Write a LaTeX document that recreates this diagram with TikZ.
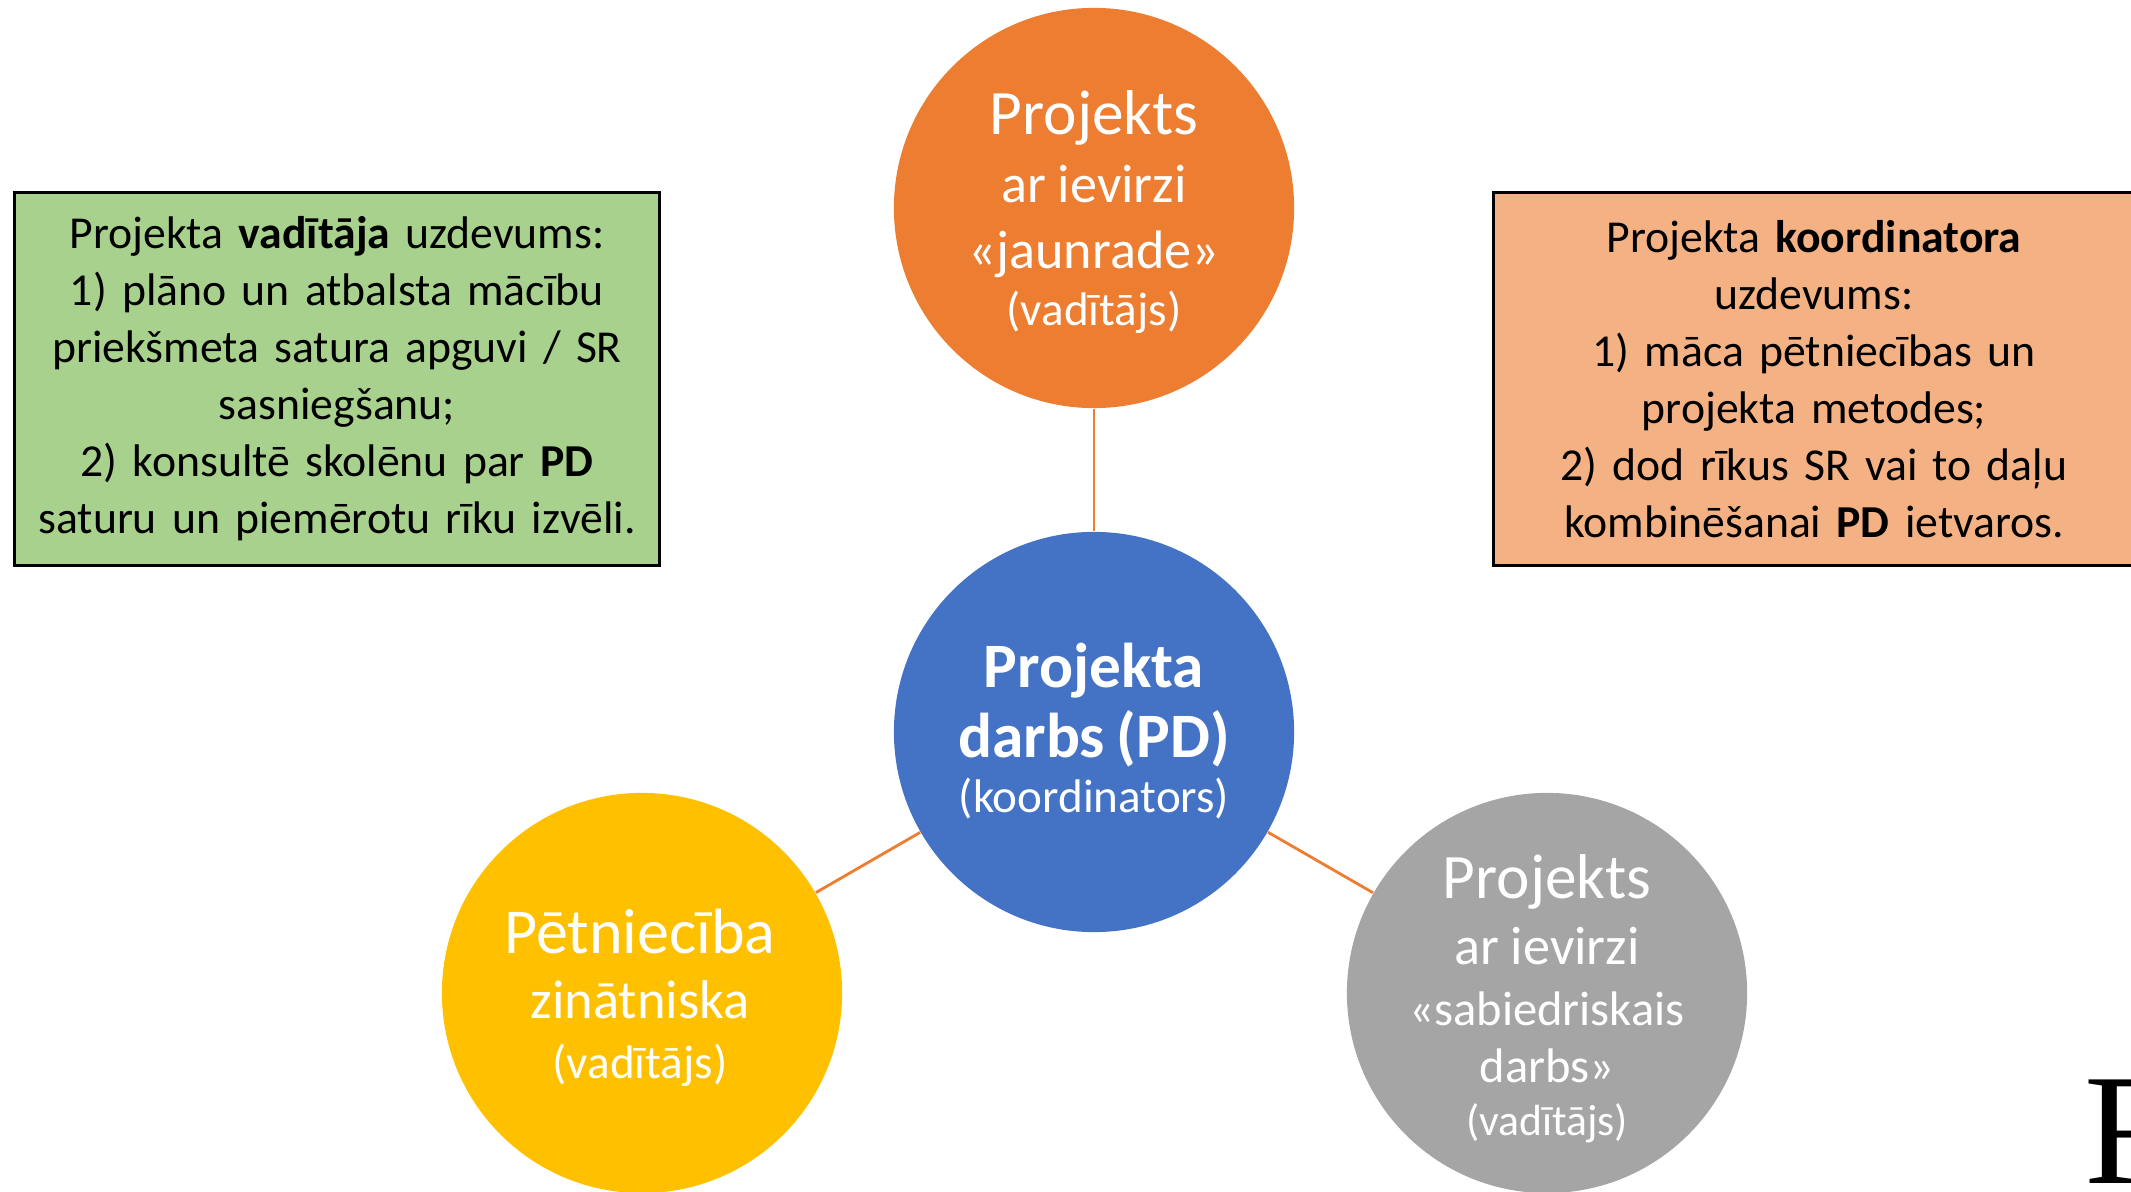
\documentclass[tikz,border=0pt]{standalone}
\usepackage{fontspec}
\setmainfont{Carlito}
\newfontfamily\serifR{Liberation Serif}
\usetikzlibrary{positioning}
\definecolor{pdblue}{HTML}{4472C4}
\definecolor{jaunorange}{HTML}{ED7D31}
\definecolor{petyellow}{HTML}{FFC000}
\definecolor{sabgrey}{HTML}{A5A5A5}
\definecolor{vadgreen}{HTML}{A9D18E}
\definecolor{koordpeach}{HTML}{F4B183}
\newcommand{\tline}[3]{{\fontsize{#1}{#2}\selectfont #3\par}}

\begin{document}
\begin{tikzpicture}[x=0.01cm, y=-0.01cm,
    bubble/.style={circle, minimum size=4cm, inner sep=0pt, draw=none},
    bubbletext/.style={anchor=base, text width=4.2cm, align=center, inner sep=0pt, text=white},
    taskbox/.style={rectangle, draw=black, line width=0.9pt, inner sep=0pt, minimum height=3.72cm,
        align=center, font=\fontsize{13}{16.2}\selectfont},
    link/.style={draw=jaunorange, line width=0.8pt}]
  \useasboundingbox (0,0) rectangle (2131,1192);
  \clip (0,0) rectangle (2131,1192);

  % circles
  \node[bubble, fill=jaunorange] (jaunrade) at (1094,208) {};
  \node[bubble, fill=pdblue] (pd) at (1094,732) {};
  \node[bubble, fill=petyellow] (petnieciba) at (642,993) {};
  \node[bubble, fill=sabgrey] (sabiedr) at (1547,993) {};

  \draw[link] (pd) -- (jaunrade);
  \draw[link] (pd) -- (petnieciba);
  \draw[link] (pd) -- (sabiedr);

  \node[bubbletext] (jaunradeTxt) at (1094,135) {\tline{18}{19}{Projekts}\tline{15.4}{19.1}{ar ievirzi}%
    \tline{15.4}{18.8}{«jaunrade»}\tline{13.4}{16.2}{(vadītājs)}};
  \node[bubbletext] (pdTxt) at (1094,688) {\tline{18}{19}{\textbf{Projekta}}\tline{18}{19.9}{\textbf{darbs (PD)}}%
    \tline{13.4}{15.4}{(koordinators)}};
  \node[bubbletext] (petniecibaTxt) at (640,953) {\tline{18.2}{19}{Pētniecība}\tline{15.5}{18.5}{zinātniska}%
    \tline{13.4}{17.1}{(vadītājs)}};
  \node[bubbletext] (sabiedrTxt) at (1547,898) {\tline{18}{19}{Projekts}\tline{15.4}{18.8}{ar ievirzi}%
    \tline{13.8}{17.4}{«sabiedriskais}\tline{13.8}{16.2}{darbs»}\tline{12.4}{15.1}{(vadītājs)}};

  % task boxes
  \node[taskbox, fill=vadgreen, minimum width=6.44cm, text width=6.3cm] (vadbox) at (337,379)
    {Projekta \textbf{vadītāja} uzdevums:\\ 1) plāno un atbalsta mācību\\ priekšmeta satura apguvi / SR\\
     sasniegšanu;\\ 2) konsultē skolēnu par \textbf{PD}\\ saturu un piemērotu rīku izvēli.};
  \node[taskbox, fill=koordpeach, minimum width=6.4cm, text width=6.2cm] (koordbox) at (1814,379)
    {Projekta \textbf{koordinatora}\\ uzdevums:\\ 1) māca pētniecības un\\ projekta metodes;\\
     2) dod rīkus SR vai to daļu\\ kombinēšanai \textbf{PD} ietvaros.};

  \node[anchor=base west, inner sep=0pt, font=\serifR\fontsize{45}{45}\selectfont] (fragR) at (2084,1183) {R};
\end{tikzpicture}
\end{document}
